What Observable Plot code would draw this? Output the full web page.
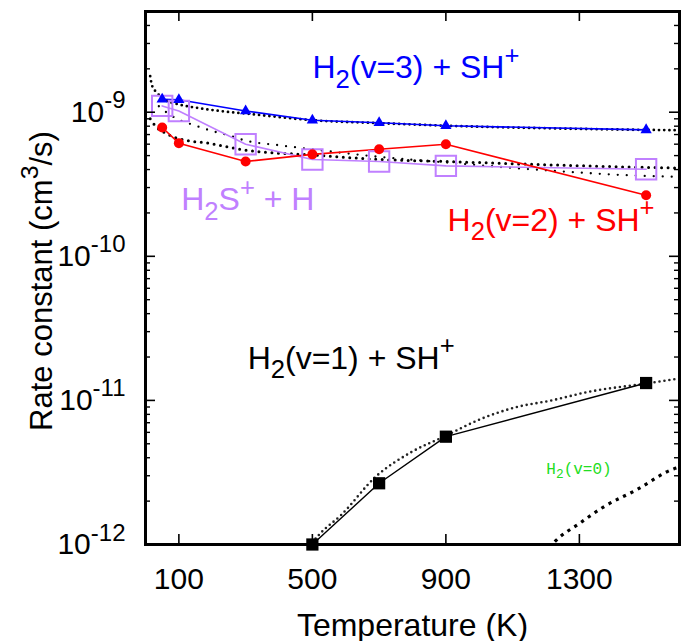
<!DOCTYPE html>
<html>
<head>
<meta charset="utf-8">
<script src="https://cdn.jsdelivr.net/npm/d3@7"></script>
<script src="https://cdn.jsdelivr.net/npm/@observablehq/plot@0.6"></script>
<style>
  html, body { margin: 0; padding: 0; background: white; overflow: hidden; }
</style>
</head>
<body>
<div id="chart"></div>
<script>
// ---------- data ----------
const temps = [50, 100, 300, 500, 700, 900, 1500];
const kV3 = [1.23e-9, 1.22e-9, 1.02e-9, 0.88e-9, 0.845e-9, 0.805e-9, 0.754e-9];
const kV2 = [0.783e-9, 0.61e-9, 0.455e-9, 0.51e-9, 0.553e-9, 0.6e-9, 0.265e-9];
const kH2S = [1.106e-9, 1.02e-9, 0.6e-9, 0.47e-9, 0.455e-9, 0.424e-9, 0.402e-9];
const tempsV1 = [500, 700, 900, 1500];
const kV1 = [1.0e-12, 2.66e-12, 5.6e-12, 1.32e-11];

// fitted curves (dotted)
const fitV3T = [14, 20, 34, 58, 97, 148, 198, 247, 298, 348, 500, 700, 900, 1200, 1500, 1600];
const fitV3K = [1.78e-9, 1.52e-9, 1.37e-9, 1.22e-9, 1.136e-9, 1.078e-9, 1.037e-9, 1.005e-9, 0.98e-9, 0.953e-9, 0.88e-9, 0.84e-9, 0.806e-9, 0.774e-9, 0.754e-9, 0.75e-9];
const fitV2T = [14, 30, 58, 118, 178, 300, 500, 700, 900, 1200, 1500, 1600];
const fitV2K = [0.9e-9, 0.8e-9, 0.72e-9, 0.64e-9, 0.615e-9, 0.545e-9, 0.505e-9, 0.47e-9, 0.455e-9, 0.432e-9, 0.414e-9, 0.41e-9];
const fitH2ST = [40, 70, 97, 148, 198, 248, 300, 400, 500, 700, 900, 1200, 1500, 1600];
const fitH2SK = [1.1e-9, 0.97e-9, 0.894e-9, 0.81e-9, 0.742e-9, 0.692e-9, 0.635e-9, 0.59e-9, 0.553e-9, 0.49e-9, 0.448e-9, 0.395e-9, 0.361e-9, 0.356e-9];
const fitV1T = [490, 523, 586, 690, 796, 901, 1006, 1111, 1217, 1322, 1500, 1600];
const fitV1K = [0.97e-12, 1.19e-12, 1.6e-12, 2.96e-12, 4.37e-12, 5.7e-12, 7.45e-12, 8.98e-12, 1.0e-11, 1.14e-11, 1.31e-11, 1.42e-11];
const fitV0T = [1210, 1227, 1302, 1372, 1472, 1584, 1600];
const fitV0K = [0.95e-12, 1.05e-12, 1.41e-12, 1.82e-12, 2.4e-12, 3.36e-12, 3.45e-12];

// axes
const xTicks = [100, 500, 900, 1300];
const xTickLabels = ["100", "500", "900", "1300"];
const yTicks = [1e-12, 1e-11, 1e-10, 1e-9];
const yTickLabels = ["10^{-12}", "10^{-11}", "10^{-10}", "10^{-9}"];
const xTitle = "Temperature (K)";
const yTitle = "Rate constant (cm^{3}/s)";

// annotations
const labelText = ["H_{2}(v=3) + SH^{+}", "H_{2}S^{+} + H", "H_{2}(v=2) + SH^{+}", "H_{2}(v=1) + SH^{+}"];
const labelT = [500, 107, 905, 306];
const labelK = [2.03e-9, 2.45e-10, 1.77e-10, 1.96e-11];
const labelColor = ["#0000ff", "#c080ff", "#ff0000", "#000000"];
const greenText = ["H_{2}(v=0)"];
const greenT = [1201];
const greenK = [3.37e-12];

// ---------- build tables ----------
const zip = (xs, ys) => xs.map((x, i) => ({x, y: ys[i]}));
const v3 = zip(temps, kV3), v2 = zip(temps, kV2), h2s = zip(temps, kH2S), v1 = zip(tempsV1, kV1);
const f3 = zip(fitV3T, fitV3K), f2 = zip(fitV2T, fitV2K), fh = zip(fitH2ST, fitH2SK), f1 = zip(fitV1T, fitV1K), f0 = zip(fitV0T, fitV0K);
const labels = labelText.map((t, i) => ({t, x: labelT[i], y: labelK[i], c: labelColor[i]}));
const green = greenText.map((t, i) => ({t, x: greenT[i], y: greenK[i]}));
const minorTicks = d3.range(-12, -8).flatMap(e => d3.range(2, 10).map(m => m * Math.pow(10, e))).filter(v => v < 4.9e-9);

const W = 681, H = 641, mL = 145, mR = 2, mT = 11, mB = 97;
const pw = W - mL - mR, ph = H - mT - mB;
const FONT = "'Liberation Sans', Arial, Helvetica, sans-serif";

const plot = Plot.plot({
  width: W, height: H,
  marginLeft: mL, marginRight: mR, marginTop: mT, marginBottom: mB,
  style: {fontFamily: FONT, background: "white", color: "black", overflow: "visible"},
  x: {domain: [0, 1600], label: null},
  y: {type: "log", domain: [1e-12, 5e-9], label: null},
  marks: [
    // fitted curves
    Plot.line(f3, {x: "x", y: "y", curve: "monotone-x", clip: true, stroke: "black", strokeWidth: 2.8, strokeDasharray: "0 5.2", strokeLinecap: "round"}),
    Plot.line(f2, {x: "x", y: "y", curve: "monotone-x", clip: true, stroke: "black", strokeWidth: 3, strokeDasharray: "0 6.5", strokeLinecap: "round"}),
    Plot.line(fh, {x: "x", y: "y", curve: "monotone-x", clip: true, stroke: "black", strokeWidth: 2.3, strokeDasharray: "0 9", strokeLinecap: "round"}),
    Plot.line(f1, {x: "x", y: "y", curve: "monotone-x", clip: true, stroke: "#222", strokeWidth: 2.6, strokeDasharray: "0 5", strokeLinecap: "round"}),
    Plot.line(f0, {x: "x", y: "y", curve: "monotone-x", clip: true, stroke: "black", strokeWidth: 3.2, strokeDasharray: "3.2 5", strokeLinecap: "butt"}),
    // data lines
    Plot.line(h2s, {x: "x", y: "y", stroke: "#c080ff", strokeWidth: 1.6}),
    Plot.line(v2, {x: "x", y: "y", stroke: "#ff0000", strokeWidth: 1.6}),
    Plot.line(v3, {x: "x", y: "y", stroke: "#0000ff", strokeWidth: 1.6}),
    Plot.line(v1, {x: "x", y: "y", stroke: "black", strokeWidth: 1.4}),
    // markers
    Plot.dot(h2s, {x: "x", y: "y", symbol: "square", r: 11.5, stroke: "#c080ff", strokeWidth: 2, fill: "none"}),
    Plot.dot(v2, {x: "x", y: "y", symbol: "circle", r: 5, fill: "#ff0000", stroke: "none"}),
    Plot.dot(v3, {x: "x", y: "y", symbol: "triangle", r: 4.2, fill: "#0000ff", stroke: "none"}),
    Plot.dot(v1, {x: "x", y: "y", symbol: "square", r: 6.9, fill: "black", stroke: "none"}),
    // inner ticks
    Plot.tickY(yTicks, {y: d => d, insetRight: pw - 10, stroke: "black", strokeWidth: 1.6}),
    Plot.tickY(yTicks, {y: d => d, insetLeft: pw - 10, stroke: "black", strokeWidth: 1.6}),
    Plot.tickY(minorTicks, {y: d => d, insetRight: pw - 5, stroke: "black", strokeWidth: 1.4}),
    Plot.tickY(minorTicks, {y: d => d, insetLeft: pw - 5, stroke: "black", strokeWidth: 1.4}),
    Plot.tickX(xTicks, {x: d => d, insetTop: ph - 10, stroke: "black", strokeWidth: 1.6}),
    Plot.tickX(xTicks, {x: d => d, insetBottom: ph - 10, stroke: "black", strokeWidth: 1.6}),
    Plot.frame({stroke: "black", strokeWidth: 3}),
    // tick labels
    Plot.axisX({ticks: xTicks, tickFormat: d => xTickLabels[xTicks.indexOf(d)], tickSize: 0, tickPadding: 23, fontSize: 30, label: null}),
    Plot.axisY({ticks: yTicks, tickFormat: d => yTickLabels[yTicks.indexOf(d)], tickSize: 0, tickPadding: 20, fontSize: 30, label: null}),
    // axis titles
    Plot.text([xTitle], {frameAnchor: "bottom", text: d => d, dy: 91, fontSize: 32, fill: "black"}),
    Plot.text([yTitle], {frameAnchor: "left", textAnchor: "middle", text: d => d, dx: -103, dy: 3, rotate: -90, fontSize: 31, fill: "black"}),
    // annotations
    Plot.text(labels, {x: "x", y: "y", text: "t", fill: "c", textAnchor: "start", fontSize: 32}),
    Plot.text(green, {x: "x", y: "y", text: "t", fill: "#22dd22", textAnchor: "start", fontSize: 16, fontFamily: "'Liberation Mono', 'Courier New', monospace"})
  ]
});

// ---------- sub/superscript rendering ----------
function rich(svg) {
  const SUB = 0.3, SUP = 0.45, SC = 0.8;
  const ns = "http://www.w3.org/2000/svg";
  svg.querySelectorAll("text").forEach(t => {
    const s = t.textContent;
    if (!/[_^]\{/.test(s)) return;
    const parts = [];
    const re = /([_^])\{([^}]*)\}/g;
    let last = 0, m;
    while ((m = re.exec(s))) {
      if (m.index > last) parts.push({t: s.slice(last, m.index), k: 0});
      parts.push({t: m[2], k: m[1] === "_" ? 1 : -1});
      last = re.lastIndex;
    }
    if (last < s.length) parts.push({t: s.slice(last), k: 0});
    while (t.firstChild) t.removeChild(t.firstChild);
    let cur = 0;
    for (const p of parts) {
      const ts = document.createElementNS(ns, "tspan");
      const target = p.k === 1 ? SUB : p.k === -1 ? -SUP : 0;
      const delta = target - cur;
      if (p.k !== 0) {
        ts.setAttribute("font-size", SC + "em");
        if (delta) ts.setAttribute("dy", (delta / SC).toFixed(3) + "em");
      } else if (delta) {
        ts.setAttribute("dy", delta.toFixed(3) + "em");
      }
      cur = target;
      ts.textContent = p.t;
      t.appendChild(ts);
    }
  });
}
rich(plot);
document.getElementById("chart").appendChild(plot);
</script>
</body>
</html>
